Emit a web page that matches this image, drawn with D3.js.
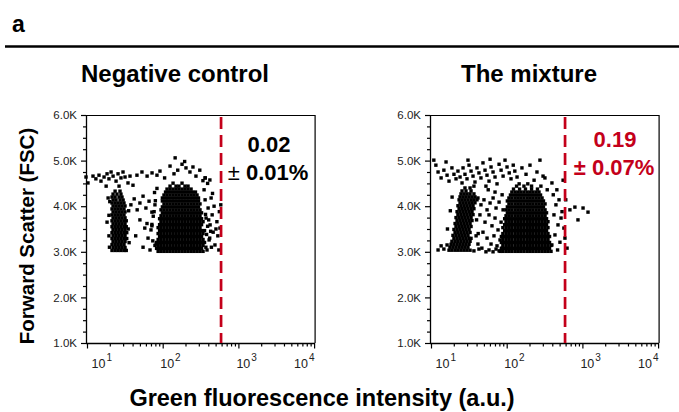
<!DOCTYPE html>
<html>
<head>
<meta charset="utf-8">
<script src="https://cdn.jsdelivr.net/npm/d3@7"></script>
<style>
  body { margin: 0; background: #fff; }
  svg { display: block; font-family: "Liberation Sans", Arial, sans-serif; }
</style>
</head>
<body>
<svg id="chart" width="679" height="412"></svg>
<script>
// axis ticks and labels
const fscTicks = [1000, 2000, 3000, 4000, 5000, 6000];
const gfpTicks = [10, 100, 1000, 10000];
const gfpTickExp = ["1", "2", "3", "4"];
const panelTitles = ["Negative control", "The mixture"];
const gatePct = ["0.02", "0.19"];
const gateErr = ["0.01%", "0.07%"];
const gateGfp = 590;

// ---- Negative control events, [GFP, FSC] ----
const negTop = [
  [9.7,4640],[10.3,4510],[12.0,4660],[13.1,4600],[14.4,4680],[15.3,4550],[16.8,4640],[18.4,4710],
  [19.5,4600],[20.8,4750],[22.1,4660],[24.2,4550],[25.7,4710],[28.1,4620],[29.9,4750],[31.8,4640],
  [34.8,4510],[37.0,4660],[40.5,4460],[17.9,4440],[26.5,4440],
  [45.7,4680],[53.2,4750],[62.2,4660],[72.3,4730],[84,4680],[92,4770],
  [146,5060],[125,4880],[158,4790],[180,4920],[203,4840],[229,4750],[275,4660],[309,4790],
  [363,4620],[420,4575],[141,4710],[251,4860],[106,4620],[195,4980]
];
// rows: [FSC, GFP values]
const negColumnRows = [
  [4330, [23.5, 27.3]],
  [4265, [22.1, 24.9, 28.1]],
  [4200, [21.4, 23.5, 26.5, 29.0]],
  [4135, [22.1, 24.2, 27.3, 30.0]],
  [4070, [21.4, 23.5, 25.7, 28.1, 30.8]],
  [4005, [22.1, 24.2, 26.5, 29.0, 31.8]],
  [3940, [21.4, 23.5, 25.7, 28.1, 30.8]],
  [3875, [22.1, 24.2, 26.5, 29.0, 31.8]],
  [3810, [21.4, 23.5, 25.7, 28.1, 30.8]],
  [3745, [22.1, 24.2, 26.5, 29.0, 31.8]],
  [3680, [21.4, 23.5, 25.7, 28.1, 30.8, 33.0]],
  [3615, [22.1, 24.2, 26.5, 29.0, 31.8]],
  [3550, [21.4, 23.5, 25.7, 28.1, 30.8, 33.0]],
  [3485, [22.1, 24.2, 26.5, 29.0, 31.8]],
  [3420, [21.4, 23.5, 25.7, 28.1, 30.8, 33.5]],
  [3355, [22.1, 24.2, 26.5, 29.0, 31.8]],
  [3290, [21.4, 23.5, 25.7, 28.1, 30.8, 33.5]],
  [3225, [22.1, 24.2, 26.5, 29.0, 31.8]],
  [3160, [21.4, 23.5, 25.7, 28.1, 30.8]],
  [3095, [22.1, 24.2, 26.5, 29.0, 31.8]],
  [3030, [21.4, 23.5, 25.7, 28.1, 30.8, 33.0]]
];
const negBridge = [
  [19.0,4180],[18.4,3650],[35.5,3900],[19.5,3350],[19.5,3800],[20,4100],[35,3500],[36,3200],[19.8,3100],
  [38,4030],[42,4160],[46,3920],[50,4070],[55,4220],[60,3960],[66,4110],[72,3870],[79,4030],
  [50,3700],[58,3520],[64,3300],[72,3570],[82,3170],[55,3100],[44,3350],[68,3040],[75,3780],[62,3620],
  [74,3240],[70,3480],[77,3880],[80,4120],[72,3600],[78,4300],[84,4390]
];
const negBlobRows = [
  [3010, [87,95,104,114,125,137,150,164,180,197,216,237,259,284,311,341]],
  [3075, [83,91,99,109,119,131,143,157,172,188,206,226,248,271,297,326]],
  [3140, [79,87,95,104,114,125,137,150,164,180,197,216,237,259,284,311,341]],
  [3205, [83,91,99,109,119,131,143,157,172,188,206,226,248,271,297,326,357]],
  [3270, [87,95,104,114,125,137,150,164,180,197,216,237,259,284,311,341]],
  [3335, [91,99,109,119,131,143,157,172,188,206,226,248,271,297,326]],
  [3400, [87,95,104,114,125,137,150,164,180,197,216,237,259,284,311,341]],
  [3465, [91,99,109,119,131,143,157,172,188,206,226,248,271,297,326,357]],
  [3530, [87,95,104,114,125,137,150,164,180,197,216,237,259,284,311]],
  [3595, [91,99,109,119,131,143,157,172,188,206,226,248,271,297,326]],
  [3660, [95,104,114,125,137,150,164,180,197,216,237,259,284,311,341]],
  [3725, [91,99,109,119,131,143,157,172,188,206,226,248,271,297,326]],
  [3790, [95,104,114,125,137,150,164,180,197,216,237,259,284,311]],
  [3855, [99,109,119,131,143,157,172,188,206,226,248,271,297,326]],
  [3920, [95,104,114,125,137,150,164,180,197,216,237,259,284,311]],
  [3985, [99,109,119,131,143,157,172,188,206,226,248,271,297]],
  [4050, [104,114,125,137,150,164,180,197,216,237,259,284,311]],
  [4115, [99,109,119,131,143,157,172,188,206,226,248,271,297]],
  [4180, [99,109,119,131,143,157,172,188,206,226,248,271,297]],
  [4245, [104,114,125,137,150,164,180,197,216,237,259,284]],
  [4310, [109,119,131,143,157,172,188,206,226,248,271]],
  [4375, [114,125,137,150,164,180,197,216,237]],
  [4440, [125,150,164,197,216]],
  [4505, [137,180]]
];
const negRight = [
  [352,4360],[363,4140],[398,3960],[436,4180],[374,3740],[423,3590],[464,3430],[410,3260],
  [490,3150],[450,3810],[520,3660],[535,3350],[552,3040],[385,3040],[477,4000],[505,3500],
  [585,4030],[570,3520],[340,4560],[365,4620],[392,4500],[560,3880],[440,3100],
  [372,3100],[380,3380],[392,3560],[368,3820],[405,3700],[418,3300],[430,3450],[455,4280]
];

// ---- The mixture events, [GFP, FSC] ----
const mixTop = [
  [10.9,5010],[11.6,4900],[12.4,4750],[13.6,4620],[14.8,4790],[16.3,4680],[17.3,4550],[18.9,4840],
  [20.1,4700],[21.4,4600],[22.7,4770],[24.2,4640],[25.7,4510],[15.8,4970],
  [26.5,4840],[28.1,4700],[29.9,4600],[31.8,4900],[33.8,4770],[35.9,4660],[38.1,4530],[40.5,4840],
  [43,4730],[45.7,4620],[48.6,4950],[51.7,4790],[54.9,4680],[58.4,4550],[62.1,4860],[66,4750],
  [70.1,4640],[74.5,4490],[79.3,4920],[84.3,4790],[89.6,4660],[95,5010],[101,4860],[108,4730],
  [114,4600],[122,4900],[128,4770],[137,4640],[146,4490],[30.8,5010],[60.3,5030],[36.9,4440],[53.2,4440],
  [159,4840],[180,4700],[203,4900],[230,4570],[275,5010],[302,4660],[190,4490],[251,4750]
];
const mixColumnRows = [
  [4400, [28.1, 32.8]],
  [4335, [25.7, 29.0, 33.8]],
  [4270, [24.9, 27.3, 29.9, 32.8, 36.9]],
  [4205, [24.2, 26.5, 29.0, 31.8, 34.8, 38.1]],
  [4140, [23.5, 25.7, 28.1, 30.8, 33.8, 36.9, 40.5]],
  [4075, [24.2, 26.5, 29.0, 31.8, 34.8, 38.1]],
  [4010, [22.7, 24.9, 27.3, 29.9, 32.8, 35.9]],
  [3945, [23.5, 25.7, 28.1, 30.8, 33.8, 36.9]],
  [3880, [22.1, 24.2, 26.5, 29.0, 31.8, 34.8]],
  [3815, [22.7, 24.9, 27.3, 29.9, 32.8, 35.9]],
  [3750, [21.4, 23.5, 25.7, 28.1, 30.8, 33.8]],
  [3685, [22.1, 24.2, 26.5, 29.0, 31.8, 34.8]],
  [3620, [20.8, 22.7, 24.9, 27.3, 29.9, 32.8]],
  [3555, [21.4, 23.5, 25.7, 28.1, 30.8, 33.8]],
  [3490, [20.1, 22.1, 24.2, 26.5, 29.0, 31.8]],
  [3425, [20.8, 22.7, 24.9, 27.3, 29.9, 32.8]],
  [3360, [19.5, 21.4, 23.5, 25.7, 28.1, 30.8]],
  [3295, [20.1, 22.1, 24.2, 26.5, 29.0, 31.8, 33.8]],
  [3230, [18.9, 20.8, 22.7, 24.9, 27.3, 29.9, 32.8]],
  [3165, [18.4, 20.1, 22.1, 24.2, 26.5, 29.0, 31.8]],
  [3100, [17.8, 19.5, 21.4, 23.5, 25.7, 28.1, 30.8]],
  [3035, [17.3, 18.9, 20.8, 22.7, 24.9, 27.3, 29.9, 32.8]]
];
const mixBridge = [
  [13.6,3130],[14.8,3060],[16.3,3150],[12.4,3040],[16.5,3500],[18,3900],[19,4200],[40,3700],[42,3400],
  [41.7,4180],[45.7,4030],[50.1,4140],[55,3920],[60.3,4070],[66.1,4180],[72.3,3960],[79.3,4090],
  [44.3,3810],[51.7,3650],[58.4,3810],[63.9,3570],[70.1,3740],[76.8,3480],[84.3,3650],
  [48.6,3430],[55,3300],[62.1,3170],[67.9,3350],[74.5,3130],[81.6,3260],[47,3080],[53.2,3000],
  [41.7,3170],[39.4,3350],[89.6,3920],[87,4250],[57,4360],[70.1,4310],
  [36.9,3020],[43,3060],[58.4,3040],[66,3000],[72.3,3060],[79.3,3020],[87,3080]
];
const mixBlobRows = [
  [3010, [82,89,98,107,117,129,141,154,169,186,203,222,244,267,293,321,351,385]],
  [3075, [85,94,102,112,123,135,148,162,177,194,213,233,255,280,306,336,368]],
  [3140, [89,98,107,117,129,141,154,169,186,203,222,244,267,293,321,351,385]],
  [3205, [85,94,102,112,123,135,148,162,177,194,213,233,255,280,306,336,368]],
  [3270, [89,98,107,117,129,141,154,169,186,203,222,244,267,293,321,351]],
  [3335, [85,94,102,112,123,135,148,162,177,194,213,233,255,280,306,336,368]],
  [3400, [89,98,107,117,129,141,154,169,186,203,222,244,267,293,321,351]],
  [3465, [94,102,112,123,135,148,162,177,194,213,233,255,280,306,336]],
  [3530, [89,98,107,117,129,141,154,169,186,203,222,244,267,293,321,351]],
  [3595, [94,102,112,123,135,148,162,177,194,213,233,255,280,306,336]],
  [3660, [98,107,117,129,141,154,169,186,203,222,244,267,293,321,351]],
  [3725, [94,102,112,123,135,148,162,177,194,213,233,255,280,306,336]],
  [3790, [98,107,117,129,141,154,169,186,203,222,244,267,293,321]],
  [3855, [102,112,123,135,148,162,177,194,213,233,255,280,306,336]],
  [3920, [98,107,117,129,141,154,169,186,203,222,244,267,293,321]],
  [3985, [102,112,123,135,148,162,177,194,213,233,255,280,306]],
  [4050, [107,117,129,141,154,169,186,203,222,244,267,293,321]],
  [4115, [102,112,123,135,148,162,177,194,213,233,255,280,306]],
  [4180, [107,117,129,141,154,169,186,203,222,244,267,293]],
  [4245, [112,123,135,148,162,177,194,213,233,255,280]],
  [4310, [117,129,141,154,169,186,203,222,244,267]],
  [4375, [123,148,177,213,255]],
  [4440, [135,169,213]]
];
const mixRight = [
  [412,4250],[447,4030],[491,4140],[421,3810],[476,3590],[538,3880],[434,3370],[505,3210],
  [470,3040],[570,3520],[556,4570],[460,4360],[627,3080],[588,3300],[684,3920],[796,3980],
  [1020,3960],[1186,3870],[874,3700],[395,3150],[522,3740],[603,4140],
  [283,4440],[343,4360],[396,4510],[320,4620]
];

function rows(list) {
  return list.flatMap(([fsc, xs]) => xs.map(g => [g, fsc]));
}
const negPoints = [].concat(negTop, rows(negColumnRows), negBridge, rows(negBlobRows), negRight);
const mixPoints = [].concat(mixTop, rows(mixColumnRows), mixBridge, rows(mixBlobRows), mixRight);

const svg = d3.select("#chart");
const red = "#c4001a";

// panel label + rule
svg.append("text").attr("x", 12).attr("y", 32)
  .attr("font-size", 23).attr("font-weight", "bold").text("a");
svg.append("line").attr("x1", 5).attr("x2", 679).attr("y1", 46.5).attr("y2", 46.5)
  .attr("stroke", "#000").attr("stroke-width", 2.5);

const panels = [
  { points: negPoints, x0: 87, titleX: 175, color: "#000", pctX: 269, pctY: 152, errY: 180, pmWeight: "normal" },
  { points: mixPoints, x0: 431, titleX: 529, color: red, pctX: 615, pctY: 147, errY: 175, pmWeight: "bold" }
];

const yTop = 115, yBottom = 343, decade = 75.7;

panels.forEach((p, i) => {
  const x = d3.scaleLog().domain([10, 10000]).range([p.x0, p.x0 + 3 * decade]);
  const y = d3.scaleLinear().domain([1000, 6000]).range([yBottom, yTop]);
  const g = svg.append("g");
  const left = p.x0 - 1, right = x(10000) + 1;

  // title
  g.append("text").attr("x", p.titleX).attr("y", 82).attr("text-anchor", "middle")
    .attr("font-size", 24).attr("font-weight", "bold").text(panelTitles[i]);

  // events
  g.append("g").selectAll("rect").data(p.points).join("rect")
    .attr("x", d => x(d[0]) - 1.7).attr("y", d => y(d[1]) - 1.7)
    .attr("width", 3.4).attr("height", 3.4).attr("fill", "#000");

  // frame top & right
  g.append("path").attr("d", `M${left},${yTop + 0.5}H${right}V${yBottom}`)
    .attr("fill", "none").attr("stroke", "#000").attr("stroke-width", 1.2);

  // y axis
  const yMinor = d3.range(1000, 6001, 250).filter(v => v % 1000 !== 0);
  const ya = g.append("g").attr("transform", `translate(${left},0)`)
    .call(d3.axisLeft(y).tickValues(fscTicks).tickSize(5).tickSizeOuter(0)
      .tickFormat(d => (d / 1000).toFixed(1) + "K"));
  ya.append("g").call(d3.axisLeft(y).tickValues(yMinor).tickSize(3).tickFormat(""))
    .select(".domain").remove();
  ya.selectAll("line").attr("stroke-width", 1.2);
  ya.select(".domain").attr("stroke-width", 1.3);
  ya.selectAll("text").attr("font-size", 11.5).attr("fill", "#222")
    .attr("font-family", "'Liberation Sans', Arial, sans-serif").attr("x", -9);

  // x axis
  const xMinor = [];
  [10, 100, 1000].forEach(dec => [2,3,4,5,6,7,8,9].forEach(k => xMinor.push(dec * k)));
  const xa = g.append("g").attr("transform", `translate(0,${yBottom + 0.5})`)
    .call(d3.axisBottom(x).tickValues(gfpTicks).tickSize(5).tickSizeOuter(0).tickFormat(""));
  xa.append("g").call(d3.axisBottom(x).tickValues(xMinor).tickSize(3).tickFormat(""))
    .select(".domain").remove();
  xa.select(".domain").attr("d", `M${left},0H${right}`).attr("stroke-width", 1.3);
  xa.selectAll("line").attr("stroke-width", 1.2);

  const labelDx = [4.5, -2.5, -2, -20];
  gfpTicks.forEach((t, j) => {
    const txt = g.append("text").attr("x", x(t) + labelDx[j]).attr("y", 368)
      .attr("font-size", 12.5).attr("fill", "#222");
    txt.append("tspan").text("10");
    txt.append("tspan").attr("font-size", 10).attr("dy", -7).attr("dx", 1).text(gfpTickExp[j]);
  });

  // gate line
  g.append("line").attr("x1", x(gateGfp)).attr("x2", x(gateGfp))
    .attr("y1", yTop + 2).attr("y2", yBottom)
    .attr("stroke", red).attr("stroke-width", 2.7).attr("stroke-dasharray", "12,6");

  // gate percentage
  g.append("text").attr("x", p.pctX).attr("y", p.pctY).attr("text-anchor", "middle")
    .attr("font-size", 22).attr("font-weight", "bold").attr("fill", p.color).text(gatePct[i]);
  const err = g.append("text").attr("x", p.pctX - 1).attr("y", p.errY).attr("text-anchor", "middle")
    .attr("font-size", 22).attr("font-weight", "bold").attr("fill", p.color);
  err.append("tspan").attr("font-weight", p.pmWeight).text("\u00b1");
  err.append("tspan").text(" " + gateErr[i]);
});

// shared axis titles
svg.append("text").attr("transform", "translate(34,236) rotate(-90)")
  .attr("text-anchor", "middle").attr("font-size", 20.5).attr("font-weight", "bold")
  .text("Forward Scatter (FSC)");
svg.append("text").attr("x", 322).attr("y", 406).attr("text-anchor", "middle")
  .attr("font-size", 23.5).attr("font-weight", "bold")
  .text("Green fluorescence intensity (a.u.)");
</script>
</body>
</html>
